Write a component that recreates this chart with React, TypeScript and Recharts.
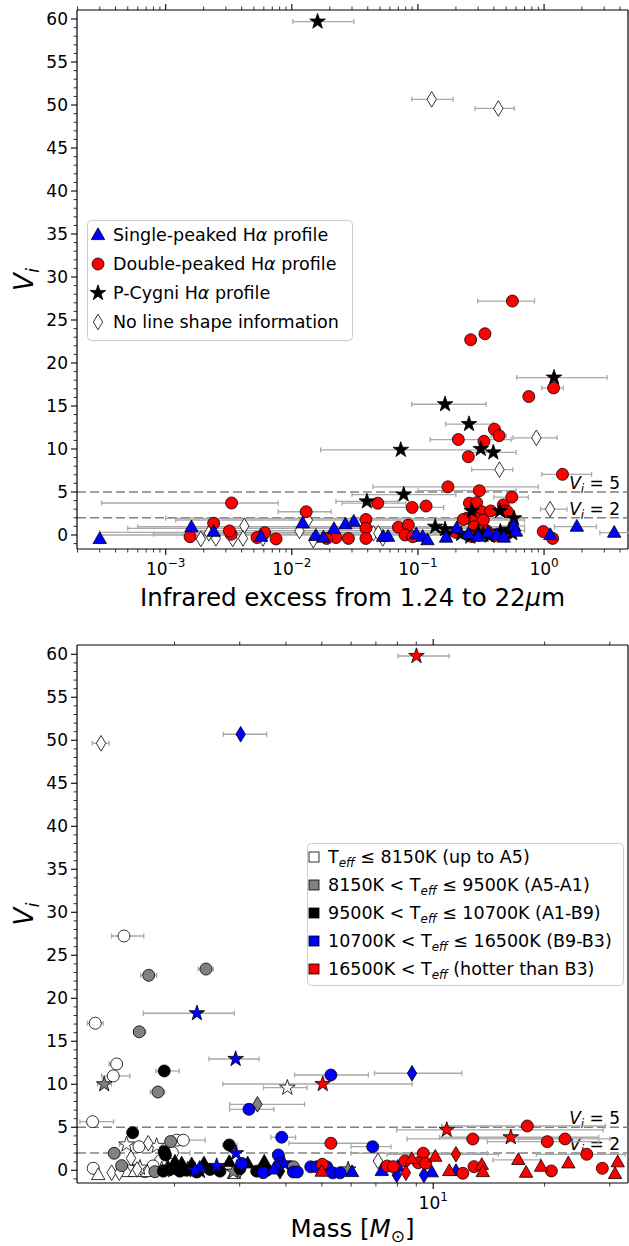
import React from "react";
import {
  ScatterChart,
  Scatter,
  XAxis,
  YAxis,
  ErrorBar,
  ReferenceLine,
  Legend,
} from "recharts";

// [x, V_i, errLow, errHigh]  (error bounds are absolute x values)
type Pt = [number, number, number?, number?];

// ---------- top panel: infrared excess, split by H-alpha profile ----------
const irSingle: Pt[] = [
  [0.0003, -0.46], [0.0016, 0.9], [0.0024, 0.38], [0.0057, -0.2], [0.0122, 1.36],
  [0.0155, -0.1], [0.0178, -0.3], [0.0216, 0.7], [0.0266, 1.24], [0.031, 1.55],
  [0.053, -0.2], [0.058, -0.2], [0.097, 0.08], [0.109, -0.2], [0.119, -0.6],
  [0.167, -0.3], [0.203, 0.78, 0.0005, 0.5], [0.25, 0.1, 0.002, 0.5], [0.3, -0.2],
  [0.36, 0.3], [0.42, 0.0], [0.48, -0.3], [0.578, 1.05, 0.45, 0.7], [0.6, 0.4],
  [1.12, 0.0], [1.82, 0.97, 1.21, 2.6], [3.6, 0.27, 2.77, 4.9],
];

const irDouble: Pt[] = [
  [0.561, 27.2, 0.298, 0.84], [0.34, 23.4], [0.262, 22.7], [1.19, 17.1, 0.96, 1.42],
  [0.757, 16.1, 0.72, 0.8], [0.404, 12.3], [0.44, 11.55, 0.38, 0.5],
  [0.209, 11.1, 0.125, 0.547], [0.334, 10.9], [0.251, 9.1], [1.4, 7.05, 0.96, 2.38],
  [0.173, 5.6, 0.044, 0.9], [0.307, 5.15, 0.1, 0.6], [0.048, 3.7, 0.025, 0.08],
  [0.09, 3.2, 0.05, 0.16], [0.116, 3.37], [0.00333, 3.72, 0.00031, 0.0078],
  [0.013, 2.7, 0.0078, 0.0205], [0.555, 4.4, 0.4, 0.75], [0.256, 3.7], [0.292, 3.76],
  [0.321, 2.7], [0.378, 2.8], [0.475, 3.5], [0.491, 2.8], [0.512, 2.7],
  [0.244, 1.94, 0.001, 0.5], [0.229, 1.8], [0.287, 1.94], [0.33, 1.74, 0.0012, 0.7],
  [0.28, 0.96, 0.0006, 0.6], [0.0387, 1.8], [0.0387, 0.78], [0.0387, -0.4],
  [0.0281, -0.4], [0.0224, -0.3], [0.0189, -0.4], [0.0075, -0.46], [0.0061, 0.27],
  [0.0053, -0.3], [0.0033, 0.08], [0.0032, 0.47], [0.0024, 1.36], [0.00156, -0.2],
  [0.07, 0.9], [0.084, 1.16], [0.079, 0.0], [0.091, -0.2], [0.986, 0.4], [1.17, -0.4],
  [0.2, 0.3, 0.0003, 0.45], [0.27, -0.2], [0.35, 0.5, 0.0015, 0.7], [0.4, -0.1], [0.52, 0.2],
];

const irPCyg: Pt[] = [
  [0.016, 59.7, 0.0102, 0.031], [1.2, 18.3, 0.607, 3.16], [0.164, 15.2, 0.0893, 0.347],
  [0.254, 12.9, 0.166, 0.396], [0.0731, 9.9, 0.0169, 0.347], [0.315, 10.0],
  [0.396, 9.6, 0.26, 0.6], [0.0771, 4.7, 0.03, 0.2], [0.0394, 3.9, 0.0224, 0.0695],
  [0.267, 2.8], [0.448, 2.8], [0.578, 1.94], [0.137, 0.96, 0.012, 0.3], [0.164, 0.66],
  [0.169, 0.1], [0.22, 0.1, 0.0008, 0.5], [0.26, -0.2], [0.3, 0.3], [0.33, 0.0, 0.0003, 0.6],
  [0.37, -0.1], [0.45, 0.4], [0.53, 0.6], [0.56, 0.2],
];

const irNoInfo: Pt[] = [
  [0.1285, 50.66, 0.0897, 0.19], [0.434, 49.6, 0.284, 0.58], [0.869, 11.3, 0.567, 1.27],
  [0.443, 7.6, 0.267, 0.565], [1.116, 3.0, 0.937, 1.52], [0.0019, -0.46], [0.0022, 0.2],
  [0.0025, -0.4], [0.0034, -0.46], [0.0042, 1.05], [0.0041, -0.4], [0.0059, -0.4],
  [0.0134, 1.74], [0.0115, 0.47], [0.0148, -0.6], [0.0397, 0.66], [0.0443, 0.2],
  [0.0485, 0.2], [0.0526, -0.4],
];

// ---------- bottom panel: mass, split by Teff class (colour) and profile (shape) ----------
const mWhiteCircle: Pt[] = [
  [1.46, 27.24, 1.352, 1.651], [1.221, 17.1, 1.162, 1.283], [1.395, 12.36, 1.33, 1.44],
  [1.366, 10.97, 1.27, 1.515], [1.201, 5.65, 1.11, 1.368], [2.027, 3.5],
  [2.112, 3.5, 1.9, 2.42], [1.603, 2.74], [1.972, 2.05, 1.85, 2.2], [1.834, 1.12],
  [1.206, 0.23], [1.531, 0.03], [1.663, -0.16], [1.75, 0.5],
];
const mWhiteTri: Pt[] = [[1.244, -0.55], [1.484, -0.2], [1.563, -0.2], [1.688, -0.2], [2.894, -0.43]];
const mWhiteStar: Pt[] = [
  [4.034, 9.6, 3.48, 4.56], [1.484, 3.0, 1.42, 1.56], [1.789, 2.83, 1.7, 1.9], [1.846, 0.1], [1.613, 0.3],
];
const mWhiteDiamond: Pt[] = [
  [1.266, 49.65, 1.199, 1.331], [1.698, 3.14], [1.525, 1.4], [1.352, -0.28], [1.418, -0.28],
  [7.09, 1.08], [1.585, 0.1],
];
const mGrayCircle: Pt[] = [
  [1.703, 22.67, 1.619, 1.789], [2.432, 23.4, 2.317, 2.545], [1.606, 16.1, 1.55, 1.67],
  [1.804, 9.1, 1.72, 1.88], [1.952, 3.34], [1.374, 1.98], [1.439, 0.54], [1.77, -0.16], [4.19, 0.4],
];
const mGrayStar: Pt[] = [[1.291, 10.0, 1.24, 1.35], [1.985, 0.0], [2.17, 0.1], [2.882, -0.16], [5.89, 0.1]];
const mGrayDiamond: Pt[] = [[3.35, 7.67, 2.82, 4.49], [3.0, 0.0]];
const mBlackCircle: Pt[] = [
  [1.876, 11.55, 1.781, 2.06], [1.541, 4.37], [2.811, 2.94, 2.7, 2.95], [1.876, 2.16], [1.89, 1.78],
  [1.865, -0.1], [1.944, 0.1], [2.069, -0.1], [2.157, 0.0], [2.296, -0.2], [2.494, 0.1],
  [2.653, -0.1], [3.005, 0.2], [3.334, -0.1], [3.548, 0.0],
];
const mBlackTri: Pt[] = [[2.005, 1.0], [2.091, 0.8], [2.225, 0.7], [2.402, 0.8], [2.811, 0.96], [3.152, 0.8], [3.495, 1.0]];
const mBlackStar: Pt[] = [[1.92, 0.3], [2.344, -0.1]];
const mBlackDiamond: Pt[] = [[3.855, -0.1]];
const mBlueCircle: Pt[] = [
  [5.29, 11.08, 4.22, 6.68], [3.178, 7.09, 2.815, 3.709], [3.895, 3.84, 3.644, 4.248],
  [6.862, 2.74, 5.998, 7.69], [3.814, 1.78], [3.037, 0.8], [3.855, 0.8], [3.473, -0.28],
  [4.19, -0.2], [4.293, -0.2], [4.667, 0.4], [4.844, 0.4], [5.155, 0.4], [5.351, -0.3], [5.6, -0.3],
];
const mBlueTri: Pt[] = [[3.707, 0.1], [6.033, -0.2], [7.26, -0.08], [8.02, 0.42], [9.91, -0.23], [11.52, -0.08], [2.34, 0.3]];
const mBlueStar: Pt[] = [
  [2.299, 18.26, 1.647, 2.9], [2.925, 12.94, 2.478, 3.382], [2.931, 1.98], [2.271, 0.0], [2.599, 0.5], [3.951, 0.8],
];
const mBlueDiamond: Pt[] = [[3.018, 50.7, 2.71, 3.548], [8.765, 11.28, 6.94, 11.95], [7.97, -0.55], [9.44, -0.55]];
const mRedCircle: Pt[] = [
  [5.29, 3.14, 4.076, 6.708], [17.96, 5.15, 10.55, 29.2], [12.79, 3.64, 8.5, 20],
  [20.34, 3.33, 14, 28], [22.71, 3.64, 17, 30], [25.99, 1.86, 19, 33], [9.4, 1.98, 6, 14],
  [8.39, 1.08], [9.11, 0.88], [9.54, 0.81], [7.51, 0.5], [7.8, 0.42], [12.02, -0.35],
  [12.89, 0.42], [20.86, -0.08], [28.64, 0.23], [5.016, 0.7],
];
const mRedTri: Pt[] = [
  [4.996, -0.16], [10.13, 1.58], [8.75, 1.31], [11.05, -0.08], [13.53, 0.62], [13.61, -0.2],
  [16.98, 1.2, 14.5, 19.5], [17.82, -0.28], [19.56, 0.42], [23.18, 0.81], [31.52, 0.93], [31.0, -0.43],
];
const mRedStar: Pt[] = [
  [9.01, 59.8, 8.03, 11.05], [5.028, 10.03, 2.7, 8.77], [10.88, 4.69, 7.97, 28.8], [16.2, 3.84, 10.4, 28],
];
const mRedDiamond: Pt[] = [[11.52, 1.86, 7.5, 15], [8.44, -0.28]];

// axis ticks
const irMajor = [0.001, 0.01, 0.1, 1];
const massMajor = [10];
const logMinor = (lo: number, hi: number) => {
  const out: number[] = [];
  for (let k = -5; k <= 2; k++)
    for (let m = 1; m <= 9; m++) {
      const v = m * Math.pow(10, k);
      if (v >= lo && v <= hi) out.push(v);
    }
  return out;
};
const yTicks = Array.from({ length: 62 }, (_, i) => i - 1);

const FONT = "'DejaVu Sans', 'Liberation Sans', sans-serif";
const ERR_COLOR = "#a9a9a9";
const C = { white: "#ffffff", gray: "#808080", black: "#000000", blue: "#0000ff", red: "#ff0000" };

const rows = (pts: Pt[]) => pts.map(([x, y]) => ({ x, y }));
const errRows = (...lists: Pt[][]) =>
  lists.flat().filter((p) => p[2] != null).map(([x, y, lo, hi]) => ({ x, y, err: [x - (lo as number), (hi as number) - x] }));

function starPts(cx: number, cy: number, R: number, r: number) {
  const pts: string[] = [];
  for (let i = 0; i < 10; i++) {
    const a = -Math.PI / 2 + (i * Math.PI) / 5;
    const rad = i % 2 === 0 ? R : r;
    pts.push(`${cx + rad * Math.cos(a)},${cy + rad * Math.sin(a)}`);
  }
  return pts.join(" ");
}

function Marker({ kind, cx, cy, fill }: { kind: string; cx: number; cy: number; fill: string }) {
  const s = { fill, stroke: "#000", strokeWidth: 0.8 };
  if (kind === "circle") return <circle cx={cx} cy={cy} r={6} {...s} />;
  if (kind === "tri") return <polygon points={`${cx},${cy - 7.2} ${cx - 6.7},${cy + 4.6} ${cx + 6.7},${cy + 4.6}`} {...s} />;
  if (kind === "star") return <polygon points={starPts(cx, cy, 8.2, 3.2)} {...s} />;
  if (kind === "square") return <rect x={cx - 5} y={cy - 5} width={10} height={10} {...s} />;
  return <polygon points={`${cx},${cy - 7.8} ${cx + 4.7},${cy} ${cx},${cy + 7.8} ${cx - 4.7},${cy}`} {...s} />;
}

const shape = (kind: string, fill: string) => (p: any) =>
  p.cx == null ? <g /> : <Marker kind={kind} cx={p.cx} cy={p.cy} fill={fill} />;

const YTick = (p: any) => {
  const { x, y, payload } = p;
  const v = payload.value;
  const major = v % 5 === 0 && v >= 0;
  return (
    <g>
      <line x1={x - (major ? 6 : 3.5)} x2={x} y1={y} y2={y} stroke="#000" strokeWidth={major ? 1.1 : 0.8} />
      {major && (
        <text x={x - 9} y={y} dy="0.36em" textAnchor="end" fontSize={17} fontFamily={FONT} fill="#000">
          {v}
        </text>
      )}
    </g>
  );
};

const makeXTick = (topY: number, majors: number[]) => (p: any) => {
  const { x, y, payload } = p;
  const v = payload.value;
  const major = majors.includes(v);
  const len = major ? 6 : 3.5;
  const exp = Math.round(Math.log10(v));
  return (
    <g>
      <line x1={x} x2={x} y1={y} y2={y + len} stroke="#000" strokeWidth={major ? 1.1 : 0.8} />
      <line x1={x} x2={x} y1={topY} y2={topY - len} stroke="#000" strokeWidth={major ? 1.1 : 0.8} />
      {major && (
        <text x={x} y={y + 26} textAnchor="middle" fontSize={17} fontFamily={FONT} fill="#000">
          10
          <tspan dy={-8} fontSize={12}>
            {exp < 0 ? `\u2212${-exp}` : `${exp}`}
          </tspan>
        </text>
      )}
    </g>
  );
};

const VLabel = (p: any) => {
  const vb = p.viewBox || { x: 0, y: 0, width: 0 };
  return (
    <text x={vb.x + vb.width - 8} y={vb.y - 3} textAnchor="end" fontFamily={FONT} fontSize={17} fill="#000">
      <tspan fontStyle="italic">V</tspan>
      <tspan fontStyle="italic" fontSize={12} dy={4}>i</tspan>
      <tspan dy={-4}> = {p.n}</tspan>
    </text>
  );
};

const YLabel = ({ cy }: { cy: number }) => (
  <text x={33} y={cy} transform={`rotate(-90, 33, ${cy})`} textAnchor="middle" fontFamily={FONT} fontSize={26} fill="#000">
    <tspan fontStyle="italic">V</tspan>
    <tspan fontStyle="italic" fontSize={18} dy={6}>i</tspan>
  </text>
);

const TopXLabel = () => (
  <text x={352.5} y={606} textAnchor="middle" fontFamily={FONT} fontSize={24.5} fill="#000">
    Infrared excess from 1.24 to 22<tspan fontStyle="italic">μ</tspan>m
  </text>
);

const BottomXLabel = () => (
  <text x={352.5} y={612} textAnchor="middle" fontFamily={FONT} fontSize={24.5} fill="#000">
    Mass [<tspan fontStyle="italic">M</tspan>
    <tspan fontSize={17} dy={5}>⊙</tspan>
    <tspan dy={-5}>]</tspan>
  </text>
);

const H = () => (
  <>
    H<tspan fontStyle="italic">α</tspan>
  </>
);

const TopLegend = () => {
  const items = [
    { kind: "tri", fill: C.blue, text: "Single-peaked " },
    { kind: "circle", fill: C.red, text: "Double-peaked " },
    { kind: "star", fill: C.black, text: "P-Cygni " },
    { kind: "diamond", fill: C.white, text: "" },
  ];
  return (
    <svg width={266} height={121}>
      <rect x={0.5} y={0.5} width={265} height={120} rx={4} fill="#fff" fillOpacity={0.85} stroke="#cccccc" />
      {items.map((it, i) => {
        const cy = 15 + i * 29;
        return (
          <g key={i}>
            <Marker kind={it.kind} cx={11} cy={cy} fill={it.fill} />
            <text x={26} y={cy + 6} fontFamily={FONT} fontSize={17.5} fill="#000">
              {i < 3 ? (
                <>
                  {it.text}
                  <H /> profile
                </>
              ) : (
                "No line shape information"
              )}
            </text>
          </g>
        );
      })}
    </svg>
  );
};

const Teff = () => (
  <>
    T<tspan fontStyle="italic" fontSize={12} dy={4}>eff</tspan>
    <tspan dy={-4}> </tspan>
  </>
);

const BottomLegend = () => {
  const items = [
    { fill: C.white, pre: "", post: "\u2264 8150K (up to A5)" },
    { fill: C.gray, pre: "8150K < ", post: "\u2264 9500K (A5-A1)" },
    { fill: C.black, pre: "9500K < ", post: "\u2264 10700K (A1-B9)" },
    { fill: C.blue, pre: "10700K < ", post: "\u2264 16500K (B9-B3)" },
    { fill: C.red, pre: "16500K < ", post: "(hotter than B3)" },
  ];
  return (
    <svg width={317} height={143}>
      <rect x={0.5} y={0.5} width={316} height={142} rx={4} fill="#fff" fillOpacity={0.85} stroke="#cccccc" />
      {items.map((it, i) => {
        const cy = 14 + i * 28;
        return (
          <g key={i}>
            <Marker kind="square" cx={7} cy={cy} fill={it.fill} />
            <text x={21} y={cy + 6} fontFamily={FONT} fontSize={17.5} fill="#000">
              {it.pre}
              <Teff />
              {it.post}
            </text>
          </g>
        );
      })}
    </svg>
  );
};

const frameLine = { stroke: "#000", strokeWidth: 1.2 };

export default function App() {
  const irErr = errRows(irSingle, irDouble, irPCyg, irNoInfo);
  const mErr = errRows(
    mWhiteCircle, mWhiteTri, mWhiteStar, mWhiteDiamond, mGrayCircle, mGrayStar, mGrayDiamond,
    mBlackCircle, mBlackTri, mBlackStar, mBlackDiamond, mBlueCircle, mBlueTri, mBlueStar,
    mBlueDiamond, mRedCircle, mRedTri, mRedStar, mRedDiamond,
  );

  const irDomain: [number, number] = [1.98e-4, 4.63];
  const mDomain: [number, number] = [1.09, 33.6];

  const massSeries: [Pt[], string, string][] = [
    [mWhiteCircle, "circle", C.white], [mWhiteTri, "tri", C.white], [mWhiteStar, "star", C.white],
    [mWhiteDiamond, "diamond", C.white], [mGrayCircle, "circle", C.gray], [mGrayStar, "star", C.gray],
    [mGrayDiamond, "diamond", C.gray], [mBlackCircle, "circle", C.black], [mBlackTri, "tri", C.black],
    [mBlackStar, "star", C.black], [mBlackDiamond, "diamond", C.black], [mBlueCircle, "circle", C.blue],
    [mBlueTri, "tri", C.blue], [mBlueStar, "star", C.blue], [mBlueDiamond, "diamond", C.blue],
    [mRedCircle, "circle", C.red], [mRedTri, "tri", C.red], [mRedStar, "star", C.red],
    [mRedDiamond, "diamond", C.red],
  ];

  return (
    <div style={{ position: "absolute", left: 0, top: 0, width: 629, height: 1246, background: "#fff" }}>
      <div style={{ position: "absolute", left: 0, top: 0 }}>
        <ScatterChart width={629} height={625} margin={{ top: 10, right: 1, bottom: 0, left: 0 }}>
          <XAxis
            type="number"
            dataKey="x"
            scale="log"
            domain={irDomain}
            allowDataOverflow
            ticks={[...logMinor(irDomain[0], irDomain[1])]}
            interval={0}
            tickSize={0}
            tickMargin={0}
            tick={makeXTick(10, irMajor)}
            height={76}
            axisLine={frameLine}
            label={<TopXLabel />}
          />
          <YAxis
            type="number"
            dataKey="y"
            domain={[-1.63, 61.05]}
            allowDataOverflow
            ticks={yTicks}
            interval={0}
            tickSize={0}
            tickMargin={0}
            tick={YTick}
            width={77}
            axisLine={frameLine}
            label={<YLabel cy={279.5} />}
          />
          <ReferenceLine y={61.05} {...frameLine} />
          <ReferenceLine x={4.63} {...frameLine} />
          <ReferenceLine y={5} stroke="#808080" strokeWidth={1.4} strokeDasharray="9 4" label={<VLabel n={5} />} />
          <ReferenceLine y={2} stroke="#808080" strokeWidth={1.4} strokeDasharray="9 4" label={<VLabel n={2} />} />
          <Scatter data={irErr} isAnimationActive={false} shape={() => <g />}>
            <ErrorBar dataKey="err" direction="x" width={2.5} stroke={ERR_COLOR} strokeWidth={1.3} />
          </Scatter>
          <Scatter data={rows(irNoInfo)} isAnimationActive={false} shape={shape("diamond", C.white)} />
          <Scatter data={rows(irDouble)} isAnimationActive={false} shape={shape("circle", C.red)} />
          <Scatter data={rows(irPCyg)} isAnimationActive={false} shape={shape("star", C.black)} />
          <Scatter data={rows(irSingle)} isAnimationActive={false} shape={shape("tri", C.blue)} />
          <Legend
            layout="vertical"
            align="center"
            verticalAlign="middle"
            wrapperStyle={{ left: 87, top: 220, width: 266, height: 121 }}
            content={() => <TopLegend />}
          />
        </ScatterChart>
      </div>
      <div style={{ position: "absolute", left: 0, top: 625 }}>
        <ScatterChart width={629} height={621} margin={{ top: 20, right: 1, bottom: 0, left: 0 }}>
          <XAxis
            type="number"
            dataKey="x"
            scale="log"
            domain={mDomain}
            allowDataOverflow
            ticks={logMinor(mDomain[0], mDomain[1])}
            interval={0}
            tickSize={0}
            tickMargin={0}
            tick={makeXTick(20, massMajor)}
            height={63}
            axisLine={frameLine}
            label={<BottomXLabel />}
          />
          <YAxis
            type="number"
            dataKey="y"
            domain={[-1.48, 61.08]}
            allowDataOverflow
            ticks={yTicks}
            interval={0}
            tickSize={0}
            tickMargin={0}
            tick={YTick}
            width={77}
            axisLine={frameLine}
            label={<YLabel cy={289} />}
          />
          <ReferenceLine y={61.08} {...frameLine} />
          <ReferenceLine x={33.6} {...frameLine} />
          <ReferenceLine y={5} stroke="#808080" strokeWidth={1.4} strokeDasharray="9 4" label={<VLabel n={5} />} />
          <ReferenceLine y={2} stroke="#808080" strokeWidth={1.4} strokeDasharray="9 4" label={<VLabel n={2} />} />
          <Scatter data={mErr} isAnimationActive={false} shape={() => <g />}>
            <ErrorBar dataKey="err" direction="x" width={2.5} stroke={ERR_COLOR} strokeWidth={1.3} />
          </Scatter>
          {massSeries.map(([pts, kind, fill], i) => (
            <Scatter key={i} data={rows(pts)} isAnimationActive={false} shape={shape(kind, fill)} />
          ))}
          <Legend
            layout="vertical"
            align="center"
            verticalAlign="middle"
            wrapperStyle={{ left: 306.5, top: 217.5, width: 317, height: 143 }}
            content={() => <BottomLegend />}
          />
        </ScatterChart>
      </div>
    </div>
  );
}
